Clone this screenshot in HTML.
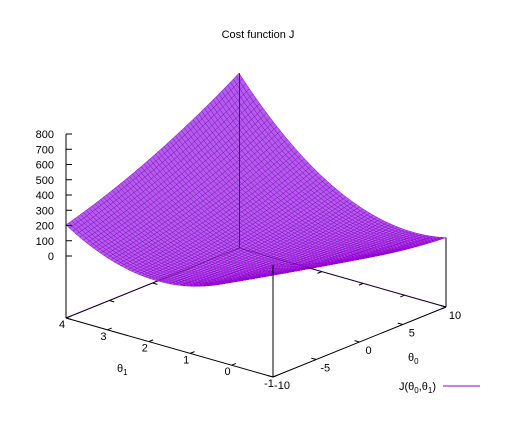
<!DOCTYPE html>
<html><head><meta charset="utf-8"><style>
html,body{margin:0;padding:0;background:#fff}
svg{display:block;font-family:"Liberation Sans","DejaVu Sans",sans-serif;font-size:11px}
</style></head><body>
<svg id="chart" width="512" height="440" viewBox="0 0 512 440">
<text x="258" y="38" text-anchor="middle">Cost function J</text>
<g id="back"></g>
<g id="surf"></g>
<g id="front"></g>
<g>
<text x="436" y="390" text-anchor="end">J(θ<tspan font-size="8" dy="3">0</tspan><tspan dy="-3">,θ</tspan><tspan font-size="8" dy="3">1</tspan><tspan dy="-3">)</tspan></text>
<line x1="443" y1="386" x2="480" y2="386" stroke="#9400d3" stroke-width="1"/>
</g>
<text x="117" y="372">θ<tspan font-size="8" dy="3">1</tspan></text>
<text x="408" y="361">θ<tspan font-size="8" dy="3">0</tspan></text>
</svg>
<script>
// sampled cost values J(theta0, theta1)
const theta0Vals = [-10, -5, 0, 5, 10];
const theta1Vals = [-1, 0, 1, 2, 3, 4];
// rows: theta1, cols: theta0
const jValues = [
  [328, 220.5, 138, 80.5, 48],
  [140.5, 73.8, 32.1, 15.4, 23.7],
  [34.3, 8.4, 7.5, 31.6, 80.7],
  [9.5, 24.4, 64.3, 129.2, 219.1],
  [66.1, 121.8, 202.5, 308.2, 438.9],
  [204.1, 300.6, 422.1, 568.6, 740.1]
];
const zTicks = [0, 100, 200, 300, 400, 500, 600, 700, 800];
const t0Ticks = [-10, -5, 0, 5, 10];
const t1Ticks = [-1, 0, 1, 2, 3, 4];

const NS = 'http://www.w3.org/2000/svg';
const A = [273, 377], B = [446, 307], C = [66, 318];
const ZOFF = 62, ZS = 0.1525;
function base(t0, t1) {
  const u = (t0 + 10) / 20, v = (t1 + 1) / 5;
  return [A[0] + u * (B[0] - A[0]) + v * (C[0] - A[0]), A[1] + u * (B[1] - A[1]) + v * (C[1] - A[1])];
}
function proj(t0, t1, z) { const b = base(t0, t1); return [b[0], b[1] - ZOFF - z * ZS]; }

function lag(xs, ys, x) {
  let k = 0;
  while (k < xs.length - 3 && x > xs[k + 1] + (xs[k + 2] - xs[k + 1]) / 2) k++;
  let s = 0;
  for (let i = k; i < k + 3; i++) {
    let p = ys[i];
    for (let j = k; j < k + 3; j++) if (j !== i) p *= (x - xs[j]) / (xs[i] - xs[j]);
    s += p;
  }
  return s;
}
function J(t0, t1) {
  const col = theta1Vals.map((_, r) => lag(theta0Vals, jValues[r], t0));
  return lag(theta1Vals, col, t1);
}
function line(g, p, q, name, color, op) {
  const l = document.createElementNS(NS, 'line');
  l.setAttribute('x1', p[0]); l.setAttribute('y1', p[1]);
  l.setAttribute('x2', q[0]); l.setAttribute('y2', q[1]);
  l.setAttribute('stroke', color || '#000'); l.setAttribute('stroke-width', 1);
  if (op) l.setAttribute('stroke-opacity', op);
  
  
  g.appendChild(l);
}
function text(g, x, y, s, anchor, name) {
  const t = document.createElementNS(NS, 'text');
  t.setAttribute('x', x); t.setAttribute('y', y);
  t.setAttribute('text-anchor', anchor); t.textContent = s;
  
  
  g.appendChild(t);
}
const back = document.getElementById('back'), front = document.getElementById('front'), surf = document.getElementById('surf');
const t0min = theta0Vals[0], t0max = theta0Vals[theta0Vals.length - 1];
const t1min = theta1Vals[0], t1max = theta1Vals[theta1Vals.length - 1];
line(back, base(t0min, t1max), base(t0max, t1max), 'base-edge-back-left');
line(back, base(t0max, t1max), base(t0max, t1min), 'base-edge-back-right');
t0Ticks.forEach(t => { line(back, base(t, t1max), base(t, t1max - 0.12), 'theta0-mirror-tick'); });
t1Ticks.forEach(t => { line(back, base(t0max, t), base(t0max - 0.5, t), 'theta1-mirror-tick'); });

const N = 60, quads = [];
for (let i = 0; i < N; i++) for (let j = 0; j < N; j++) {
  const a0 = t0min + (t0max - t0min) * i / N, a1 = t0min + (t0max - t0min) * (i + 1) / N;
  const b0 = t1min + (t1max - t1min) * j / N, b1 = t1min + (t1max - t1min) * (j + 1) / N;
  const pts = [[a0, b0], [a1, b0], [a1, b1], [a0, b1]].map(p => proj(p[0], p[1], J(p[0], p[1])));
  const d = base((a0 + a1) / 2, (b0 + b1) / 2)[1];
  quads.push({ pts, d });
}
quads.sort((p, q) => p.d - q.d);
quads.forEach(q => {
  const pg = document.createElementNS(NS, 'polygon');
  pg.setAttribute('points', q.pts.map(p => p[0].toFixed(2) + ',' + p[1].toFixed(2)).join(' '));
  pg.setAttribute('fill', '#b060e8');
  pg.setAttribute('stroke', '#9400d3');
  pg.setAttribute('stroke-width', '0.5');
  
  
  surf.appendChild(pg);
});

// back edges seen through the mesh
line(front, base(t0min, t1max), base(t0max, t1max), 'base-edge-back-left-through', '#400060', 0.45);
line(front, base(t0max, t1max), base(t0max, t1min), 'base-edge-back-right-through', '#400060', 0.45);
line(front, base(t0min, t1min), base(t0max, t1min), 'theta0-axis-line');
line(front, base(t0min, t1min), base(t0min, t1max), 'theta1-axis-line');
line(front, base(t0min, t1min), proj(t0min, t1min, J(t0min, t1min)), 'front-vertical-line');
line(front, base(t0max, t1min), proj(t0max, t1min, J(t0max, t1min)), 'right-vertical-line');
const bv = base(t0max, t1max), tv = proj(t0max, t1max, J(t0max, t1max));
line(front, [bv[0] + 0.5, bv[1]], [tv[0] + 0.5, tv[1]], 'back-vertical-line', '#3a0050', 0.8);
const zTop = proj(t0min, t1max, zTicks[zTicks.length - 1]);
line(front, base(t0min, t1max), zTop, 'z-axis-line');
zTicks.forEach(z => {
  const p = proj(t0min, t1max, z);
  line(front, p, [p[0] + 6, p[1]], 'z-tick');
  text(front, p[0] - 12, p[1] + 4, String(z), 'end', 'z-tick-label');
});
t0Ticks.forEach(t => {
  const p = base(t, t1min);
  line(front, p, base(t, t1min + 0.12), 'theta0-tick');
  text(front, p[0] + 9, p[1] + 12, String(t), 'middle', 'theta0-tick-label');
});
t1Ticks.forEach(t => {
  const p = base(t0min, t);
  line(front, p, base(t0min + 0.5, t), 'theta1-tick');
  text(front, p[0] - 4, p[1] + 10, String(t), 'middle', 'theta1-tick-label');
});
</script>
</body></html>
